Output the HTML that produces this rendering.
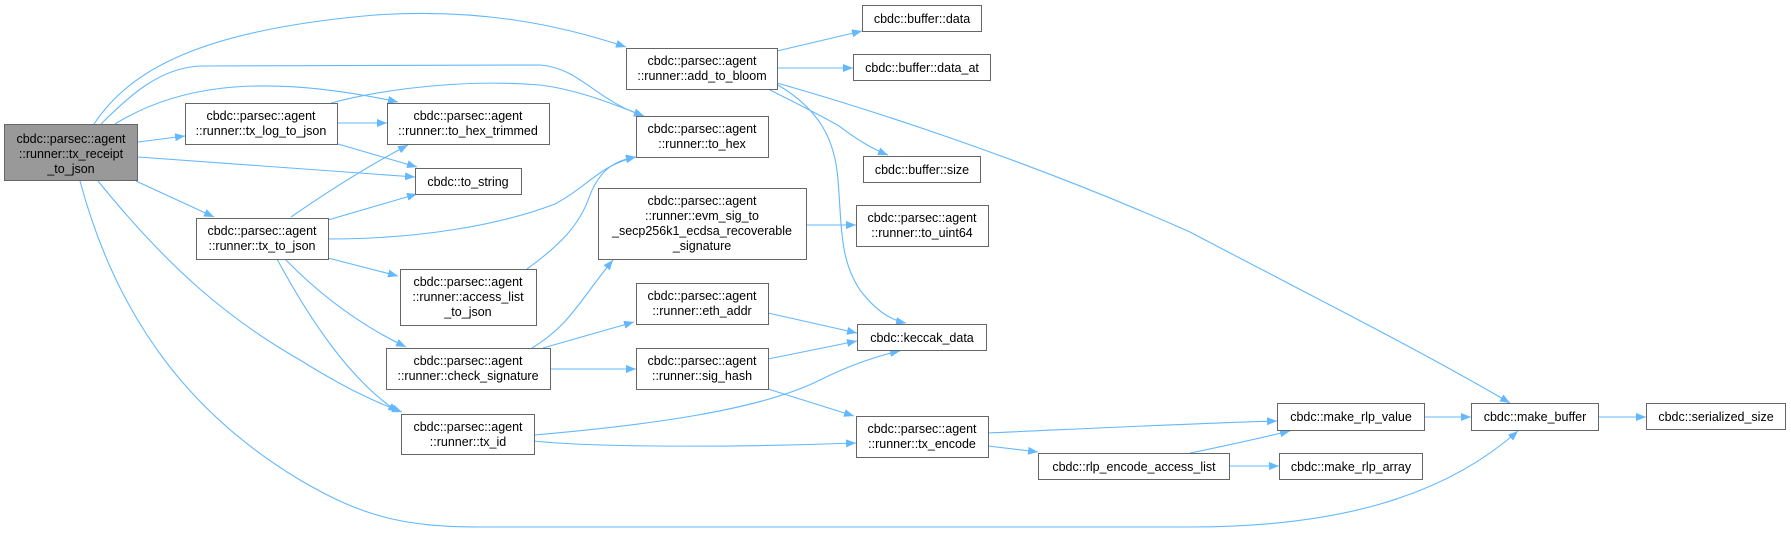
<!DOCTYPE html>
<html><head><meta charset="utf-8"><style>
html,body{margin:0;padding:0;background:#fff;}
svg{display:block;}
text{font-family:"Liberation Sans",Arial,sans-serif;font-size:12.5px;fill:#000;text-anchor:middle;}
.n{fill:#fff;stroke:#666;stroke-width:1;}
.g{fill:#999;stroke:#666;stroke-width:1;}
.e{fill:none;stroke:#63b8ff;stroke-width:1.1;marker-end:url(#a);}
</style></head><body>
<svg width="1791" height="534" viewBox="0 0 1791 534" xmlns="http://www.w3.org/2000/svg">
<defs><marker id="a" viewBox="0 0 10 8" refX="10" refY="4" markerWidth="10" markerHeight="8" markerUnits="userSpaceOnUse" orient="auto"><path d="M0,0 L10,4 L0,8 z" fill="#63b8ff"/></marker></defs>

<!-- edges -->
<path class="e" d="M94,124 C130,70 200,30 375,15 C480,8 560,25 626,47"/>
<path class="e" d="M101,124 C130,95 160,68 200,66 L540,65 C580,68 595,100 644,116"/>
<path class="e" d="M115,124 C170,90 250,70 398,102"/>
<path class="e" d="M138,142 L185,136"/>
<path class="e" d="M138,157 L415,177"/>
<path class="e" d="M136,181 L214,217"/>
<path class="e" d="M98,181 C170,270 230,320 300,360 C340,385 370,400 402,412"/>
<path class="e" d="M80,181 C120,330 200,420 300,480 C360,515 400,527 480,527 L1190,527 C1330,527 1440,500 1518,431"/>

<path class="e" d="M338,123 L387,123"/>
<path class="e" d="M338,144 L417,167"/>
<path class="e" d="M331,103 C400,85 480,80 540,85 C580,90 615,105 644,116"/>

<path class="e" d="M291,217 C330,190 370,165 408,145"/>
<path class="e" d="M328,220 L417,194"/>
<path class="e" d="M328,239 C420,239 500,225 555,204 C590,185 600,165 636,157"/>
<path class="e" d="M328,258 L398,276"/>
<path class="e" d="M285,259 C320,295 360,325 406,347"/>
<path class="e" d="M277,259 C310,320 350,380 398,412"/>

<path class="e" d="M527,269 C560,245 580,225 590,195 C600,170 615,160 636,157"/>

<path class="e" d="M532,348 C570,325 580,300 613,260"/>
<path class="e" d="M543,348 L634,322"/>
<path class="e" d="M550,369 L636,369"/>

<path class="e" d="M534,435 C650,425 760,410 820,380 C850,365 880,355 900,351"/>
<path class="e" d="M534,441 C600,448 750,447 856,443"/>

<path class="e" d="M777,51 L862,31"/>
<path class="e" d="M777,68 L853,68"/>
<path class="e" d="M770,90 C800,105 820,115 839,126 C855,138 870,148 888,155"/>
<path class="e" d="M778,85 C820,110 835,140 838,180 C842,230 840,260 860,290 C875,310 890,320 906,323"/>
<path class="e" d="M777,83 C900,118 1050,170 1190,232 C1300,290 1420,350 1510,403"/>

<path class="e" d="M806,225 L856,225"/>
<path class="e" d="M768,313 L857,333"/>
<path class="e" d="M768,359 L857,341"/>
<path class="e" d="M768,389 L854,416"/>
<path class="e" d="M988,433 C1100,428 1200,423 1277,421"/>
<path class="e" d="M988,446 L1038,452"/>
<path class="e" d="M1190,453 C1230,445 1260,438 1290,431"/>
<path class="e" d="M1229,466 L1279,466"/>
<path class="e" d="M1424,417 L1471,417"/>
<path class="e" d="M1598,417 L1646,417"/>

<!-- nodes -->
<rect class="g" x="4.5" y="124.5" width="133" height="56"/>
<text x="71" y="143">cbdc::parsec::agent</text><text x="71" y="158">::runner::tx_receipt</text><text x="71" y="173">_to_json</text>

<rect class="n" x="185.5" y="103.5" width="152" height="41"/>
<text x="261" y="120">cbdc::parsec::agent</text><text x="261" y="135">::runner::tx_log_to_json</text>

<rect class="n" x="387.5" y="103.5" width="162" height="41"/>
<text x="468" y="120">cbdc::parsec::agent</text><text x="468" y="135">::runner::to_hex_trimmed</text>

<rect class="n" x="415.5" y="168.5" width="106" height="26"/>
<text x="468" y="186">cbdc::to_string</text>

<rect class="n" x="196.5" y="218.5" width="132" height="41"/>
<text x="262" y="235">cbdc::parsec::agent</text><text x="262" y="250">::runner::tx_to_json</text>

<rect class="n" x="400.5" y="269.5" width="136" height="56"/>
<text x="468" y="286">cbdc::parsec::agent</text><text x="468" y="301">::runner::access_list</text><text x="468" y="316">_to_json</text>

<rect class="n" x="386.5" y="348.5" width="164" height="41"/>
<text x="468" y="365">cbdc::parsec::agent</text><text x="468" y="380">::runner::check_signature</text>

<rect class="n" x="401.5" y="414.5" width="133" height="40"/>
<text x="468" y="431">cbdc::parsec::agent</text><text x="468" y="446">::runner::tx_id</text>

<rect class="n" x="626.5" y="48.5" width="151" height="41"/>
<text x="702" y="65">cbdc::parsec::agent</text><text x="702" y="80">::runner::add_to_bloom</text>

<rect class="n" x="636.5" y="116.5" width="132" height="41"/>
<text x="702" y="133">cbdc::parsec::agent</text><text x="702" y="148">::runner::to_hex</text>

<rect class="n" x="598.5" y="188.5" width="208" height="71"/>
<text x="702" y="205">cbdc::parsec::agent</text><text x="702" y="220">::runner::evm_sig_to</text><text x="702" y="235">_secp256k1_ecdsa_recoverable</text><text x="702" y="250">_signature</text>

<rect class="n" x="636.5" y="283.5" width="132" height="41"/>
<text x="702" y="300">cbdc::parsec::agent</text><text x="702" y="315">::runner::eth_addr</text>

<rect class="n" x="636.5" y="348.5" width="132" height="41"/>
<text x="702" y="365">cbdc::parsec::agent</text><text x="702" y="380">::runner::sig_hash</text>

<rect class="n" x="862.5" y="5.5" width="119" height="26"/>
<text x="922" y="23">cbdc::buffer::data</text>

<rect class="n" x="853.5" y="54.5" width="137" height="26"/>
<text x="922" y="72">cbdc::buffer::data_at</text>

<rect class="n" x="863.5" y="156.5" width="117" height="26"/>
<text x="922" y="174">cbdc::buffer::size</text>

<rect class="n" x="856.5" y="205.5" width="132" height="41"/>
<text x="922" y="222">cbdc::parsec::agent</text><text x="922" y="237">::runner::to_uint64</text>

<rect class="n" x="857.5" y="324.5" width="129" height="26"/>
<text x="922" y="342">cbdc::keccak_data</text>

<rect class="n" x="856.5" y="416.5" width="132" height="41"/>
<text x="922" y="433">cbdc::parsec::agent</text><text x="922" y="448">::runner::tx_encode</text>

<rect class="n" x="1038.5" y="453.5" width="191" height="26"/>
<text x="1134" y="471">cbdc::rlp_encode_access_list</text>

<rect class="n" x="1277.5" y="403.5" width="147" height="27"/>
<text x="1351" y="421">cbdc::make_rlp_value</text>

<rect class="n" x="1279.5" y="453.5" width="143" height="26"/>
<text x="1351" y="471">cbdc::make_rlp_array</text>

<rect class="n" x="1471.5" y="403.5" width="127" height="27"/>
<text x="1535" y="421">cbdc::make_buffer</text>

<rect class="n" x="1646.5" y="403.5" width="139" height="26"/>
<text x="1716" y="421">cbdc::serialized_size</text>
</svg>
</body></html>
